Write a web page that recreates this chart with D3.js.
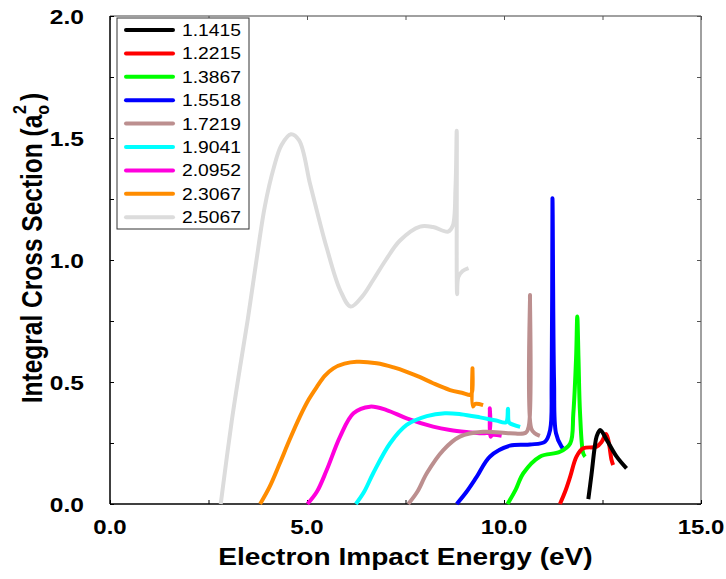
<!DOCTYPE html>
<html><head><meta charset="utf-8">
<script src="https://cdn.jsdelivr.net/npm/d3@7"></script>
<style>body{margin:0;background:#fff;}svg{display:block;}</style>
</head><body>
<script>
// ---- data ----
const seriesLabels = ["1.1415","1.2215","1.3867","1.5518","1.7219","1.9041","2.0952","2.3067","2.5067"];
const seriesColors = ["#000000","#ff0000","#00ff00","#0000ff","#bc8f8f","#00ffff","#ff00dd","#ff8c00","#dcdcdc"];

const e1415 = [12.14,12.22,12.30,12.35,12.44,12.61,12.86,13.11];
const s1415 = [0.02,0.12,0.23,0.276,0.303,0.262,0.194,0.146];

const e1221 = [11.42,11.55,11.68,11.84,12.01,12.35,12.48,12.59,12.65,12.73,12.77];
const s1221 = [0,0.05,0.112,0.194,0.228,0.235,0.255,0.287,0.26,0.18,0.16];

const e1386 = [10.09,10.30,10.49,10.91,11.42,11.68,11.76,11.83,11.86,11.89,11.93,12.01,12.06];
const s1386 = [0,0.06,0.126,0.194,0.214,0.248,0.372,0.60,0.768,0.60,0.372,0.208,0.194];

const e1551 = [8.80,9.05,9.31,9.64,10.15,10.66,11.04,11.17,11.21,11.23,11.27,11.32,11.46,11.50];
const s1551 = [0,0.05,0.112,0.194,0.239,0.244,0.255,0.303,0.508,1.253,0.508,0.29,0.235,0.228];

const e1721 = [7.57,7.80,8.04,8.46,8.88,9.47,10.15,10.55,10.63,10.66,10.69,10.78,10.91];
const s1721 = [0,0.05,0.126,0.221,0.276,0.296,0.29,0.292,0.32,0.857,0.31,0.29,0.279];

const e1904 = [6.24,6.45,6.68,7.11,7.53,8.04,8.50,8.90,9.39,9.80,10.05,10.10,10.12,10.16,10.41];
const s1904 = [0,0.05,0.126,0.249,0.324,0.36,0.372,0.368,0.355,0.342,0.335,0.39,0.337,0.33,0.316];

const e2095 = [5.01,5.25,5.50,5.84,6.18,6.60,7.02,7.53,8.20,8.63,9.05,9.45,9.62,9.64,9.66,9.70,9.94];
const s2095 = [0,0.05,0.139,0.276,0.372,0.399,0.385,0.351,0.317,0.303,0.295,0.29,0.295,0.392,0.276,0.283,0.28];

const e2306 = [3.81,4.05,4.31,4.55,4.82,5.05,5.25,5.45,5.67,5.95,6.26,6.77,7.20,7.53,7.87,8.20,8.63,8.97,9.14,9.19,9.20,9.21,9.27,9.47];
const s2306 = [0,0.07,0.167,0.26,0.358,0.43,0.48,0.525,0.556,0.575,0.583,0.577,0.56,0.542,0.52,0.495,0.467,0.454,0.447,0.46,0.556,0.40,0.41,0.405];

const e2506 = [2.81,3.09,3.30,3.50,3.70,3.93,4.16,4.35,4.59,4.80,5.08,5.30,5.50,5.84,6.11,6.40,6.68,7.00,7.36,7.87,8.20,8.58,8.70,8.77,8.80,8.81,8.84,8.95,9.10];
const s2506 = [0,0.34,0.56,0.76,0.98,1.22,1.38,1.47,1.515,1.49,1.31,1.17,1.05,0.877,0.809,0.85,0.918,1.0,1.08,1.137,1.135,1.116,1.14,1.30,1.53,0.86,0.93,0.955,0.967];

const energies = [e1415,e1221,e1386,e1551,e1721,e1904,e2095,e2306,e2506];
const sigmas   = [s1415,s1221,s1386,s1551,s1721,s1904,s2095,s2306,s2506];

const xTickValues = [0,5,10,15];
const xTickLabels = ["0.0","5.0","10.0","15.0"];
const yTickValues = [0,0.5,1.0,1.5,2.0];
const yTickLabels = ["0.0","0.5","1.0","1.5","2.0"];
const xMinor = [0,2.5,5,7.5,10,12.5,15];
const yMinor = [0,0.25,0.5,0.75,1,1.25,1.5,1.75,2];
const xTitle = "Electron Impact Energy (eV)";

// ---- layout ----
const W = 726, H = 579;
const L = 110, R = 701, T = 16, B = 504;
const SX = 1.17; // horizontal stretch of text

const svg = d3.select("body").append("svg").attr("width", W).attr("height", H);
const x = d3.scaleLinear().domain([0,15]).range([L,R]);
const y = d3.scaleLinear().domain([0,2]).range([B,T]);

// frame
svg.append("line").attr("x1",L).attr("x2",R).attr("y1",T).attr("y2",T).attr("stroke","#808080").attr("stroke-width",1.5);
svg.append("line").attr("x1",R).attr("x2",R).attr("y1",T).attr("y2",B).attr("stroke","#808080").attr("stroke-width",1.5);

// ticks via axes (inward)
const tickLen = 4;
svg.append("g").attr("transform",`translate(0,${B})`)
  .call(d3.axisTop(x).tickValues(xMinor).tickSize(tickLen).tickFormat(""))
  .call(g=>{g.select(".domain").remove(); g.selectAll("line").attr("stroke","#000");});
svg.append("g").attr("transform",`translate(0,${T})`)
  .call(d3.axisBottom(x).tickValues(xMinor).tickSize(tickLen).tickFormat(""))
  .call(g=>{g.select(".domain").remove(); g.selectAll("line").attr("stroke","#555");});
svg.append("g").attr("transform",`translate(${L},0)`)
  .call(d3.axisRight(y).tickValues(yMinor).tickSize(tickLen).tickFormat(""))
  .call(g=>{g.select(".domain").remove(); g.selectAll("line").attr("stroke","#000");});
svg.append("g").attr("transform",`translate(${R},0)`)
  .call(d3.axisLeft(y).tickValues(yMinor).tickSize(tickLen).tickFormat(""))
  .call(g=>{g.select(".domain").remove(); g.selectAll("line").attr("stroke","#555");});

svg.append("line").attr("x1",L).attr("x2",R).attr("y1",B).attr("y2",B).attr("stroke","#000").attr("stroke-width",1.5);
svg.append("line").attr("x1",L).attr("x2",L).attr("y1",T).attr("y2",B).attr("stroke","#000").attr("stroke-width",1.5);

// tick labels
const fontFam = "Liberation Sans, Arial, sans-serif";
xTickValues.forEach((v,i)=>{
  svg.append("text").attr("transform",`translate(${x(v)},${B+30}) scale(${SX},1)`)
    .attr("text-anchor","middle").attr("font-family",fontFam).attr("font-weight","bold")
    .attr("font-size",20.5).text(xTickLabels[i]);
});
yTickValues.forEach((v,i)=>{
  svg.append("text").attr("transform",`translate(${L-26},${y(v)+7.5}) scale(${SX},1)`)
    .attr("text-anchor","end").attr("font-family",fontFam).attr("font-weight","bold")
    .attr("font-size",21).text(yTickLabels[i]);
});

// axis titles
svg.append("text").attr("transform",`translate(${(L+R)/2},${H-14}) scale(${SX},1)`)
  .attr("text-anchor","middle").attr("font-family",fontFam).attr("font-weight","bold")
  .attr("font-size",24).text(xTitle);

const yt = svg.append("text").attr("transform",`translate(42,${(T+B)/2 - 12}) scale(${SX},1) rotate(-90)`)
  .attr("text-anchor","middle").attr("font-family",fontFam).attr("font-weight","bold")
  .attr("font-size",24.5);
yt.append("tspan").text("Integral Cross Section (a");
yt.append("tspan").attr("font-size",16).attr("dy",6).text("o");
yt.append("tspan").attr("font-size",16).attr("dx",-9).attr("dy",-20).text("2");
yt.append("tspan").attr("dx",4).attr("dy",14).text(")");

// curves
const line = d3.line().x(d=>x(d[0])).y(d=>y(d[1])).curve(d3.curveCatmullRom.alpha(0.5));
const plot = svg.append("g");
for (let i = energies.length-1; i >= 0; i--) {
  const pts = energies[i].map((e,j)=>[e, sigmas[i][j]]);
  plot.append("path").attr("d", line(pts)).attr("fill","none")
    .attr("stroke", seriesColors[i]).attr("stroke-width",4)
    .attr("stroke-linejoin","round").attr("stroke-linecap","butt");
}

// legend
const lg = svg.append("g");
lg.append("rect").attr("x",117).attr("y",18).attr("width",132).attr("height",211)
  .attr("fill","#fff").attr("stroke","#333").attr("stroke-width",1);
seriesLabels.forEach((lab,i)=>{
  const yy = 30 + i*23.4;
  lg.append("line").attr("x1",126).attr("x2",173).attr("y1",yy).attr("y2",yy)
    .attr("stroke",seriesColors[i]).attr("stroke-width",4).attr("stroke-linecap","round");
  lg.append("text").attr("transform",`translate(182,${yy+6}) scale(${SX},1)`)
    .attr("font-family",fontFam).attr("font-size",16.5).text(lab);
});
</script>
</body></html>
